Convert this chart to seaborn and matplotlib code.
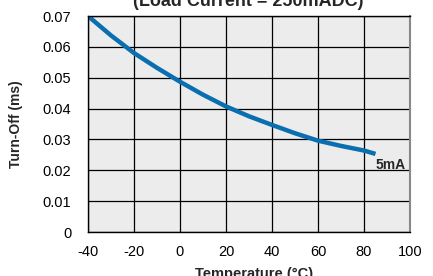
import numpy as np
import pandas as pd
import seaborn as sns
import matplotlib.pyplot as plt

# values (5mA)
temperature = [-40, -30, -20, -10, 0, 10, 20, 30, 40, 50, 60, 70, 80, 85]
turn_off = [0.0700, 0.0637, 0.0580, 0.0532, 0.0487, 0.0445, 0.0407,
            0.0375, 0.0347, 0.0320, 0.0296, 0.0279, 0.0264, 0.0253]
x_ticks = [-40, -20, 0, 20, 40, 60, 80, 100]
y_ticks = [0, 0.01, 0.02, 0.03, 0.04, 0.05, 0.06, 0.07]
y_tick_labels = ['0', '0.01', '0.02', '0.03', '0.04', '0.05', '0.06', '0.07']

sns.set_style('white')
plt.rcParams['font.family'] = ['Liberation Sans', 'DejaVu Sans']
plt.rcParams['axes.unicode_minus'] = False

df = pd.DataFrame({'Temperature': temperature, 'TurnOff': turn_off})

fig = plt.figure(figsize=(4.33, 2.76), dpi=100)
ax = fig.add_axes([88 / 433, 44 / 276, 322 / 433, 216 / 276])
ax.set_facecolor('#ececec')

sns.lineplot(data=df, x='Temperature', y='TurnOff', ax=ax,
             color='#0a6fb0', linewidth=3.2, solid_capstyle='butt')

ax.set_xlim(-40, 100)
ax.set_ylim(0, 0.07)
ax.set_xticks(x_ticks)
ax.set_yticks(y_ticks)
ax.set_yticklabels(y_tick_labels)
ax.tick_params(length=0, labelsize=10.5, colors='black')
ax.tick_params(axis='y', pad=12)
ax.tick_params(axis='x', pad=9)
ax.grid(True, color='black', linewidth=0.9)
ax.set_axisbelow(True)
for side in ['left', 'bottom', 'top']:
    ax.spines[side].set_color('black')
    ax.spines[side].set_linewidth(1.0)
ax.spines['right'].set_color('#888888')
ax.spines['right'].set_linewidth(1.5)

ax.set_xlabel('')
ax.set_ylabel('Turn-Off (ms)', fontsize=10, fontweight='bold', labelpad=14)

ax.text(temperature[-1], turn_off[-1] - 0.0012, '5mA', fontsize=10,
        fontweight='bold', ha='left', va='top', transform=ax.transData)

fig.text(248 / 433, 1 - 6 / 276, '(Load Current = 250mADC)', fontsize=13,
         fontweight='bold', ha='center', va='baseline')
fig.text(254 / 433, 1 - 267 / 276, 'Temperature (\u00b0C)', fontsize=10.5,
         fontweight='bold', ha='center', va='top')

fig.savefig('out.png', dpi=100)
